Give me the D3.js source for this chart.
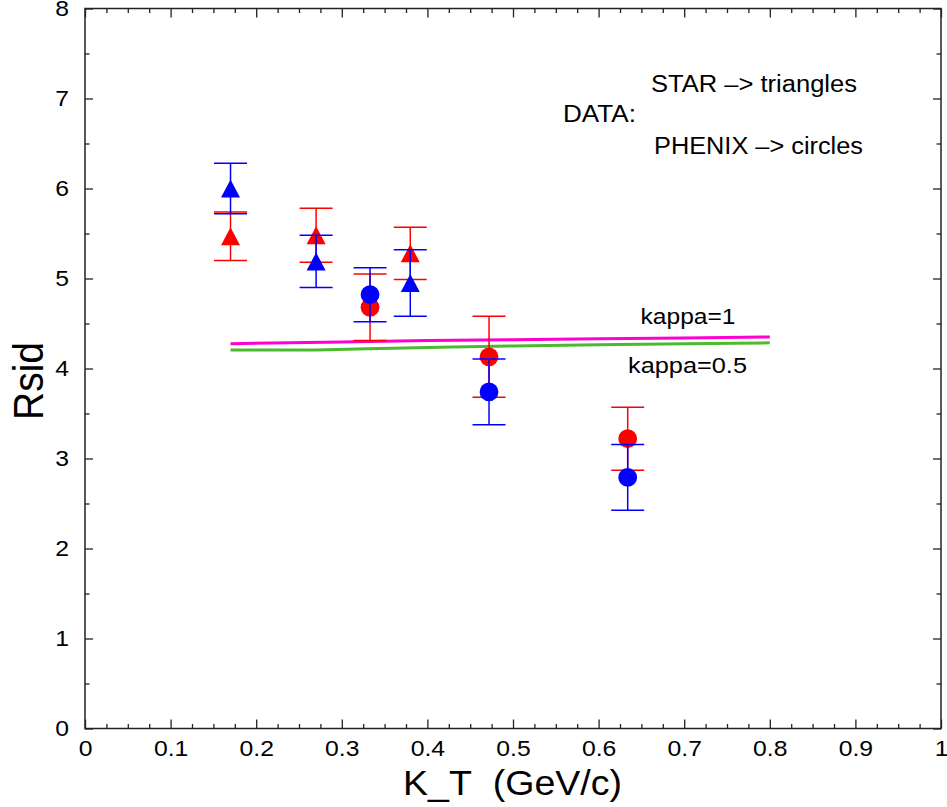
<!DOCTYPE html>
<html>
<head>
<meta charset="utf-8">
<script src="https://cdn.jsdelivr.net/npm/d3@7"></script>
<style>
  body { margin: 0; background: #fff; }
  text { font-family: "Liberation Sans", Arial, sans-serif; fill: #000; }
</style>
</head>
<body>
<svg id="chart" width="947" height="807"></svg>
<script>
// STAR (triangles) and PHENIX (circles), red and blue sets
const starKt = [0.17, 0.27, 0.38];
const starRed = [5.47, 5.48, 5.28];
const starRedErr = [0.27, 0.30, 0.29];
const starBlue = [6.0, 5.19, 4.95];
const starBlueErr = [0.28, 0.29, 0.37];

const phenixKt = [0.333, 0.472, 0.634];
const phenixRed = [4.68, 4.13, 3.22];
const phenixRedErr = [0.37, 0.45, 0.35];
const phenixBlue = [4.82, 3.74, 2.79];
const phenixBlueErr = [0.30, 0.365, 0.365];

// model curves
const kappa1Kt = [0.17, 0.3, 0.4, 0.5, 0.6, 0.7, 0.8];
const kappa1R = [4.275, 4.295, 4.31, 4.32, 4.33, 4.34, 4.35];
const kappa05Kt = [0.17, 0.27, 0.33, 0.43, 0.5, 0.6, 0.7, 0.8];
const kappa05R = [4.205, 4.205, 4.22, 4.24, 4.25, 4.265, 4.275, 4.285];

const xTicks = [0, 0.1, 0.2, 0.3, 0.4, 0.5, 0.6, 0.7, 0.8, 0.9, 1];
const xTickLabels = ['0', '0.1', '0.2', '0.3', '0.4', '0.5', '0.6', '0.7', '0.8', '0.9', '1'];
const yTicks = [0, 1, 2, 3, 4, 5, 6, 7, 8];

const svg = d3.select('#chart');
const pLeft = 85, pRight = 941, pTop = 8.5, pBottom = 728.5;

const x = d3.scaleLinear().domain([0, 1]).range([pLeft, pRight]);
const y = d3.scaleLinear().domain([0, 8]).range([pBottom, pTop]);

const xMinor = d3.range(0, 1.0001, 0.025).filter(v => Math.abs(v * 10 - Math.round(v * 10)) > 1e-6);
const yMinor = d3.range(0.5, 8, 1);

// axes, ticks pointing inwards; labels widened a little like the original
const axisStyle = g => {
  g.select('.domain').remove();
  g.selectAll('line').attr('stroke', '#222').attr('stroke-width', 1.3);
  g.selectAll('text').attr('font-size', 22.5).attr('fill', '#000')
    .attr('font-family', '"Liberation Sans", Arial, sans-serif')
    .each(function () {
      const w = this.getComputedTextLength();
      if (w > 0) d3.select(this).attr('textLength', w * 1.1).attr('lengthAdjust', 'spacingAndGlyphs');
    });
};

svg.append('g').attr('transform', `translate(0,${pBottom})`)
  .call(d3.axisBottom(x).tickValues(xTicks).tickFormat((d, i) => xTickLabels[i])
    .tickSize(-9).tickSizeOuter(0).tickPadding(12))
  .call(axisStyle);
svg.append('g').attr('transform', `translate(0,${pBottom})`)
  .call(d3.axisBottom(x).tickValues(xMinor).tickFormat('').tickSize(-4.5).tickSizeOuter(0))
  .call(axisStyle);
svg.append('g').attr('transform', `translate(0,${pTop})`)
  .call(d3.axisTop(x).tickValues(xTicks).tickFormat('').tickSize(-9).tickSizeOuter(0))
  .call(axisStyle);
svg.append('g').attr('transform', `translate(0,${pTop})`)
  .call(d3.axisTop(x).tickValues(xMinor).tickFormat('').tickSize(-4.5).tickSizeOuter(0))
  .call(axisStyle);

svg.append('g').attr('transform', `translate(${pLeft},0)`)
  .call(d3.axisLeft(y).tickValues(yTicks).tickFormat(d3.format('d'))
    .tickSize(-8).tickSizeOuter(0).tickPadding(16))
  .call(axisStyle);
svg.append('g').attr('transform', `translate(${pLeft},0)`)
  .call(d3.axisLeft(y).tickValues(yMinor).tickFormat('').tickSize(-4.5).tickSizeOuter(0))
  .call(axisStyle);
svg.append('g').attr('transform', `translate(${pRight},0)`)
  .call(d3.axisRight(y).tickValues(yTicks).tickFormat('').tickSize(-8).tickSizeOuter(0))
  .call(axisStyle);
svg.append('g').attr('transform', `translate(${pRight},0)`)
  .call(d3.axisRight(y).tickValues(yMinor).tickFormat('').tickSize(-4.5).tickSizeOuter(0))
  .call(axisStyle);

// frame
svg.append('rect')
  .attr('x', pLeft).attr('y', pTop)
  .attr('width', pRight - pLeft).attr('height', pBottom - pTop)
  .attr('fill', 'none').attr('stroke', '#222').attr('stroke-width', 1.5);

// model lines
const line = d3.line().x(d => x(d[0])).y(d => y(d[1]));
svg.append('path')
  .attr('d', line(d3.zip(kappa05Kt, kappa05R)))
  .attr('fill', 'none').attr('stroke', '#4cba2f').attr('stroke-width', 3);
svg.append('path')
  .attr('d', line(d3.zip(kappa1Kt, kappa1R)))
  .attr('fill', 'none').attr('stroke', '#ff00d0').attr('stroke-width', 3);

// error bars + markers
const capHalf = 16.5;
const triangle = (cx, cy) => {
  const w = 9.5, h = 9;
  return `M${cx},${cy - h}L${cx + w},${cy + h}L${cx - w},${cy + h}Z`;
};

const drawSet = (kt, vals, errs, colour, shape) => {
  const pts = d3.zip(kt, vals, errs);
  const g = svg.append('g');
  const bars = g.selectAll('g.err').data(pts).join('g').attr('class', 'err')
    .attr('stroke', colour).attr('stroke-width', 1.5);
  bars.append('line')
    .attr('x1', d => x(d[0])).attr('x2', d => x(d[0]))
    .attr('y1', d => y(d[1] + d[2])).attr('y2', d => y(d[1] - d[2]));
  bars.append('line')
    .attr('x1', d => x(d[0]) - capHalf).attr('x2', d => x(d[0]) + capHalf)
    .attr('y1', d => y(d[1] + d[2])).attr('y2', d => y(d[1] + d[2]));
  bars.append('line')
    .attr('x1', d => x(d[0]) - capHalf).attr('x2', d => x(d[0]) + capHalf)
    .attr('y1', d => y(d[1] - d[2])).attr('y2', d => y(d[1] - d[2]));
  if (shape === 'circle') {
    g.selectAll('circle').data(pts).join('circle')
      .attr('cx', d => x(d[0])).attr('cy', d => y(d[1])).attr('r', 9.4)
      .attr('fill', colour);
  } else {
    g.selectAll('path.tri').data(pts).join('path').attr('class', 'tri')
      .attr('d', d => triangle(x(d[0]), y(d[1])))
      .attr('fill', colour);
  }
};

drawSet(starKt, starRed, starRedErr, '#ff0000', 'triangle');
drawSet(phenixKt, phenixRed, phenixRedErr, '#ff0000', 'circle');
drawSet(starKt, starBlue, starBlueErr, '#0000ff', 'triangle');
drawSet(phenixKt, phenixBlue, phenixBlueErr, '#0000ff', 'circle');

// annotations
const note = (tx, ty, str, size, len) => svg.append('text')
  .attr('x', tx).attr('y', ty)
  .attr('font-size', size)
  .attr('textLength', len).attr('lengthAdjust', 'spacingAndGlyphs')
  .text(str);

note(651, 92, 'STAR –> triangles', 23, 206);
note(563, 121.5, 'DATA:', 23, 73);
note(654, 153.5, 'PHENIX –> circles', 23, 209);
note(640.5, 324, 'kappa=1', 22.5, 95);
note(628, 373, 'kappa=0.5', 22.5, 119);

// axis titles
svg.append('text')
  .attr('x', 403).attr('y', 795)
  .attr('font-size', 35)
  .attr('textLength', 219).attr('lengthAdjust', 'spacingAndGlyphs')
  .text('K_T\u00a0 (GeV/c)');

svg.append('text')
  .attr('transform', 'translate(43,381) rotate(-90) scale(1,1.09)')
  .attr('text-anchor', 'middle')
  .attr('font-size', 39)
  .text('Rsid');
</script>
</body>
</html>
